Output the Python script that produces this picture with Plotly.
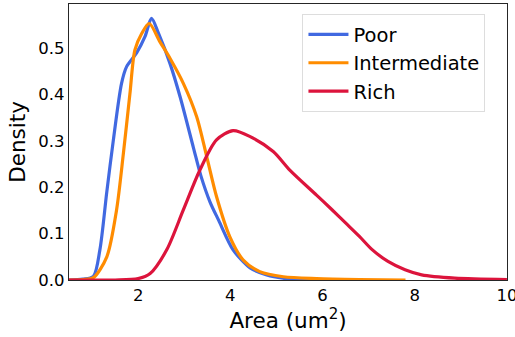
import plotly.graph_objects as go

poor_x = [0.5, 0.8, 1.03, 1.17, 1.32, 1.46, 1.64, 1.75, 1.97, 2.15, 2.29, 2.44, 2.69, 2.91, 3.2, 3.36, 3.56, 3.75, 4.06, 4.43, 4.79, 5.14, 5.6, 6.2]
poor_y = [0.0, 0.002, 0.008, 0.065, 0.19, 0.3, 0.424, 0.46, 0.49, 0.525, 0.564, 0.532, 0.467, 0.395, 0.285, 0.225, 0.168, 0.128, 0.065, 0.026, 0.011, 0.004, 0.001, 0.0]

inter_x = [0.5, 0.8, 1.03, 1.32, 1.53, 1.68, 1.82, 1.93, 2.08, 2.24, 2.47, 2.69, 2.98, 3.27, 3.49, 3.7, 3.99, 4.28, 4.64, 5.15, 5.87, 6.8, 7.8]
inter_y = [0.0, 0.001, 0.005, 0.05, 0.15, 0.273, 0.40, 0.496, 0.532, 0.553, 0.514, 0.478, 0.424, 0.352, 0.265, 0.18, 0.093, 0.043, 0.018, 0.007, 0.003, 0.001, 0.0]

rich_x = [0.5, 1.5, 2.0, 2.26, 2.62, 2.98, 3.34, 3.7, 4.06, 4.43, 4.93, 5.29, 5.87, 6.2, 6.5, 6.8, 7.07, 7.42, 7.79, 8.15, 8.87, 10.0]
rich_y = [0.0, 0.0, 0.003, 0.014, 0.065, 0.151, 0.237, 0.302, 0.322, 0.309, 0.277, 0.237, 0.183, 0.152, 0.123, 0.094, 0.066, 0.04, 0.022, 0.011, 0.004, 0.001]

names = ["Poor", "Intermediate", "Rich"]
colors = ["royalblue", "darkorange", "crimson"]

x_ticks = [2, 4, 6, 8, 10]
y_ticks = [0.0, 0.1, 0.2, 0.3, 0.4, 0.5]

fig = go.Figure()
for xs, ys, n, c in zip([poor_x, inter_x, rich_x], [poor_y, inter_y, rich_y], names, colors):
    fig.add_trace(go.Scatter(x=xs, y=ys, mode="lines", name=n,
                             line=dict(color=c, width=3.2, shape="spline", smoothing=0.8)))

fig.update_layout(
    width=515, height=337,
    margin=dict(l=69, r=8, t=4, b=57, autoexpand=False),
    paper_bgcolor="white", plot_bgcolor="white",
    font=dict(family="DejaVu Sans", color="black", size=16),
    showlegend=True,
    legend=dict(x=0.533, y=0.963, xanchor="left", yanchor="top",
                bgcolor="white", bordercolor="#dddddd", borderwidth=1,
                font=dict(size=19.5, family="DejaVu Sans"),
                tracegroupgap=0, itemwidth=40),
    xaxis=dict(range=[0.5, 10.002], tickvals=x_ticks, ticktext=[str(t) for t in x_ticks],
               showgrid=False, zeroline=False, showline=True, linecolor="#262626", linewidth=1.2,
               mirror=True, ticks="", tickfont=dict(size=16.5), ticklabeloverflow="allow",
               automargin=False,
               title=dict(text="Area (um<sup>2</sup>)", font=dict(size=21.5), standoff=6)),
    yaxis=dict(range=[0, 0.595], tickvals=y_ticks, ticktext=[f"{t:.1f}" for t in y_ticks],
               showgrid=False, zeroline=False, showline=True, linecolor="#262626", linewidth=1.2,
               mirror=True, ticks="", tickfont=dict(size=16.5), automargin=False,
               title=dict(text="Density", font=dict(size=21.5), standoff=6)),
)

fig.write_html("out.html")
